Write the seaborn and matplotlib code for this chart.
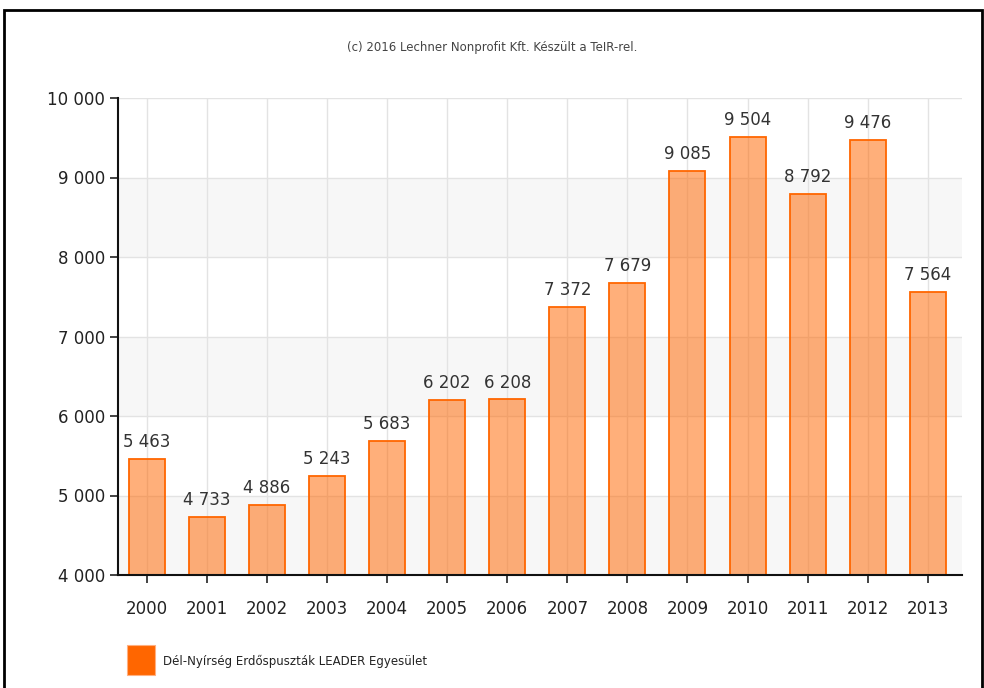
# Dél-Nyírség Erdőspuszták LEADER Egyesület - bar chart
import numpy as np
import pandas as pd
import matplotlib
matplotlib.use('Agg')
import matplotlib.pyplot as plt
import matplotlib.patches as patches
import seaborn as sns

years = ['2000', '2001', '2002', '2003', '2004', '2005', '2006',
         '2007', '2008', '2009', '2010', '2011', '2012', '2013']
values = [5463, 4733, 4886, 5243, 5683, 6202, 6208,
          7372, 7679, 9085, 9504, 8792, 9476, 7564]
series_name = 'Dél-Nyírség Erdőspuszták LEADER Egyesület'
y_ticks = [4000, 5000, 6000, 7000, 8000, 9000, 10000]

df = pd.DataFrame({'year': years, 'value': values})

sns.set_theme(style='white')
plt.rcParams['font.family'] = ['DejaVu Sans']


def fmt(v):
    return f'{int(v):,}'.replace(',', ' ')


fig = plt.figure(figsize=(9.84, 6.88), dpi=100)
ax = fig.add_axes([118 / 984, 1 - 575 / 688, (962 - 118) / 984, (575 - 98) / 688])

sns.barplot(data=df, x='year', y='value', ax=ax, width=0.6,
            color='#ff6600', saturation=1, zorder=2)
for p in ax.containers[0]:
    p.set_edgecolor('#ff6600')
    p.set_linewidth(1.3)
    p.set_facecolor((1.0, 0.4, 0.0, 0.52))

# alternating bands + grid
for lo in [4000, 6000, 8000]:
    ax.axhspan(lo, lo + 1000, facecolor='#f7f7f7', zorder=0, lw=0)
for t in y_ticks[1:]:
    ax.axhline(t, color='#e3e3e3', lw=1, zorder=0.5)
for i in range(len(years)):
    ax.axvline(i, color='#e3e3e3', lw=1, zorder=0.5)

for i, v in enumerate(values):
    ax.text(i, v + 100, fmt(v), ha='center', va='bottom',
            fontsize=12, color='#333333', zorder=3)

ax.set_ylim(4000, 10000)
ax.set_xlim(-0.48, 13.57)
ax.set_yticks(y_ticks)
ax.set_yticklabels([fmt(t) for t in y_ticks])
ax.set_xlabel('')
ax.set_ylabel('')
ax.tick_params(axis='both', labelsize=12, colors='#222222', length=6,
               width=1.2, direction='out')
ax.tick_params(axis='x', pad=12)
ax.tick_params(axis='both', left=True, bottom=True)
for s in ['top', 'right']:
    ax.spines[s].set_visible(False)
for s in ['left', 'bottom']:
    ax.spines[s].set_color('#111111')
    ax.spines[s].set_linewidth(1.5)

fig.text(0.5, 1 - 47 / 688, '(c) 2016 Lechner Nonprofit Kft. Készült a TeIR-rel.',
         ha='center', va='center', fontsize=8.5, color='#444444')

# legend
fig.patches.append(patches.Rectangle((127 / 984, 1 - 675 / 688), 28 / 984, 30 / 688,
                                     transform=fig.transFigure, facecolor='#ff6600',
                                     edgecolor='#ffb080', lw=0.8))
fig.text(163 / 984, 1 - 661 / 688, series_name, ha='left', va='center',
         fontsize=8.5, color='#222222')

# outer frame
fig.patches.append(patches.Rectangle((4 / 984, -0.01), 978 / 984, 1 - 10 / 688 + 0.01,
                                     transform=fig.transFigure, fill=False,
                                     edgecolor='#000000', lw=2))

fig.savefig('out.png', dpi=100)
